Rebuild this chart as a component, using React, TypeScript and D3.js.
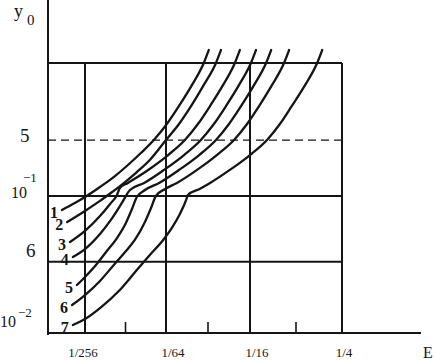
import * as d3 from "d3";

// x values are log2(E), y values are log10(y0)
const xGrid = [-8, -6, -4, -2];
const xLabels = ["1/256", "1/64", "1/16", "1/4"];
const xMinor = [-7, -5, -3];

// horizontal lines: top line, "5" (dashed), 10^-1, "6"
const yTop = 0;
const yDashed = -0.58;
const yDecade = -1;
const ySix = -1.48;

const curve1 = [[-8.57, -1.102], [-8.25, -1.051], [-8.0, -1.007], [-7.63, -0.932], [-7.26, -0.85], [-6.94, -0.767], [-6.62, -0.677], [-6.3, -0.579], [-5.98, -0.459], [-5.69, -0.323], [-5.38, -0.165], [-5.1, 0], [-4.98, 0.098]];
const curve2 = [[-8.44, -1.19], [-8.0, -1.109], [-7.63, -1.036], [-7.33, -0.97], [-7.01, -0.895], [-6.72, -0.82], [-6.4, -0.729], [-6.0, -0.579], [-5.69, -0.459], [-5.4, -0.323], [-5.1, -0.165], [-4.81, 0], [-4.69, 0.098]];
const curve3 = [[-8.37, -1.336], [-8.0, -1.255], [-7.63, -1.146], [-7.38, -1.058], [-7.21, -0.992], [-7.14, -0.94], [-6.94, -0.902], [-6.44, -0.804], [-5.95, -0.692], [-5.55, -0.579], [-5.24, -0.459], [-4.95, -0.323], [-4.64, -0.165], [-4.36, 0], [-4.24, 0.098]];
const curve4 = [[-8.3, -1.445], [-8.0, -1.387], [-7.63, -1.277], [-7.33, -1.161], [-7.09, -1.051], [-6.89, -0.955], [-6.54, -0.902], [-6.05, -0.804], [-5.57, -0.692], [-5.17, -0.579], [-4.86, -0.459], [-4.57, -0.323], [-4.26, -0.165], [-3.98, 0], [-3.87, 0.098]];
const curve5 = [[-8.2, -1.65], [-8.0, -1.591], [-7.75, -1.511], [-7.48, -1.409], [-7.21, -1.307], [-6.99, -1.197], [-6.84, -1.095], [-6.72, -1.007], [-6.52, -0.955], [-6.17, -0.902], [-5.69, -0.804], [-5.21, -0.692], [-4.81, -0.579], [-4.5, -0.459], [-4.21, -0.323], [-3.91, -0.165], [-3.65, 0], [-3.54, 0.098]];
const curve6 = [[-8.32, -1.796], [-8.0, -1.723], [-7.63, -1.62], [-7.31, -1.511], [-7.01, -1.409], [-6.77, -1.321], [-6.52, -1.19], [-6.37, -1.088], [-6.25, -1.0], [-6.02, -0.947], [-5.74, -0.902], [-5.26, -0.804], [-4.79, -0.692], [-4.38, -0.579], [-4.07, -0.459], [-3.8, -0.323], [-3.52, -0.165], [-3.26, 0], [-3.15, 0.098]];
const curve7 = [[-8.3, -1.942], [-8.0, -1.898], [-7.63, -1.818], [-7.14, -1.686], [-6.72, -1.54], [-6.4, -1.431], [-6.07, -1.321], [-5.86, -1.233], [-5.67, -1.131], [-5.52, -1.029], [-5.48, -0.992], [-5.2, -0.947], [-4.95, -0.902], [-4.48, -0.804], [-4.0, -0.692], [-3.63, -0.579], [-3.35, -0.459], [-3.09, -0.323], [-2.8, -0.165], [-2.54, 0], [-2.43, 0.098]];

const curves = [curve1, curve2, curve3, curve4, curve5, curve6, curve7];
const curveNames = ["1", "2", "3", "4", "5", "6", "7"];

const W = 436;
const H = 360;
const INK = "#151515";
const SERIF = "'Liberation Serif', 'DejaVu Serif', serif";

export default function App() {
  const x = d3.scaleLinear().domain(xGrid).range([85, 166, 250, 342]);
  const y = d3.scaleLinear().domain([-2, -1, 0]).range([333, 196, 63]);

  const axisX = 48;
  const axisY = y(-2);
  const left = axisX;
  const right = x(-2);
  const top = y(yTop);

  const line = d3
    .line<number[]>()
    .x((d) => x(d[0]))
    .y((d) => y(d[1]))
    .curve(d3.curveMonotoneX);

  return (
    <svg
      width={W}
      height={H}
      style={{ position: "fixed", left: 0, top: 0, background: "#fff" }}
      fontFamily={SERIF}
    >
      <g stroke={INK} strokeWidth={2} fill="none">
        {/* axes */}
        <line x1={axisX} y1={0} x2={axisX} y2={axisY + 2} />
        <line x1={axisX} y1={axisY} x2={421} y2={axisY} />
        {/* horizontal lines */}
        {[yTop, yDecade, ySix].map((v) => (
          <line key={v} x1={left} x2={right} y1={y(v)} y2={y(v)} />
        ))}
        <line
          x1={left}
          x2={right}
          y1={y(yDashed)}
          y2={y(yDashed)}
          strokeWidth={1.2}
          strokeDasharray="8 5"
        />
        {/* vertical grid */}
        {xGrid.map((v) => (
          <line key={v} x1={x(v)} x2={x(v)} y1={top} y2={axisY} />
        ))}
        {xMinor.map((v) => (
          <line key={v} x1={x(v)} x2={x(v)} y1={axisY - 11} y2={axisY} strokeWidth={1.6} />
        ))}
      </g>

      <g stroke={INK} strokeWidth={2.3} fill="none" strokeLinecap="round">
        {curves.map((c, i) => (
          <path key={i} d={line(c) ?? ""} />
        ))}
      </g>

      <g fill={INK} fontWeight="bold" fontSize={16} textAnchor="end">
        {curves.map((c, i) => (
          <text key={i} x={x(c[0][0]) - 4} y={y(c[0][1]) + 8}>
            {curveNames[i]}
          </text>
        ))}
      </g>

      <g fill={INK} fontSize={13} textAnchor="middle">
        {xGrid.map((v, i) => (
          <text key={v} x={x(v) + (i === 0 ? -2 : i === 3 ? 2 : 7)} y={357}>
            {xLabels[i]}
          </text>
        ))}
      </g>
      <text x={423} y={358} fontSize={16} fill={INK}>
        E
      </text>

      {/* y axis labels */}
      <g fill={INK}>
        <text x={14} y={17} fontSize={18}>y</text>
        <text x={27} y={25} fontSize={15}>0</text>
        <text x={20} y={y(yDashed) + 2} fontSize={19}>5</text>
        <text x={26} y={y(ySix) - 5} fontSize={19}>6</text>
        <text x={11} y={y(yDecade) + 2} fontSize={16}>10</text>
        <text x={23} y={y(yDecade) - 14} fontSize={13}>−1</text>
        <text x={0} y={axisY - 6} fontSize={16}>10</text>
        <text x={18} y={axisY - 16} fontSize={13}>−2</text>
      </g>
    </svg>
  );
}
